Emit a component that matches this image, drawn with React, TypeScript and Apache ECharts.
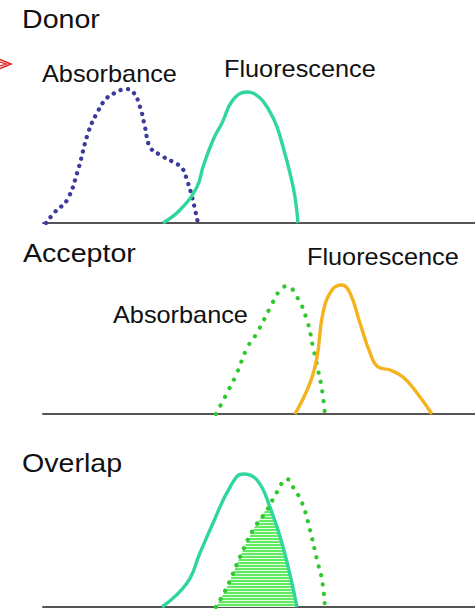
import React, { useEffect, useRef } from "react";
import * as echarts from "echarts";

// wavelength (nm) vs. relative intensity
const donorAbsorbance: [number, number][] = [
  [402.1, 0], [408.3, 0.079], [416.7, 0.164], [424.3, 0.379], [431.3, 0.643], [437.5, 0.786],
  [444.4, 0.893], [451.4, 0.936], [456.9, 0.957], [462.5, 0.936], [467.4, 0.829], [470.8, 0.686],
  [474.3, 0.543], [481.3, 0.486], [490.3, 0.436], [496.5, 0.393], [500.0, 0.307], [503.5, 0.186],
  [507.6, 0],
];
const donorFluorescence: [number, number][] = [
  [483.3, 0], [495.1, 0.093], [506.9, 0.257], [511.1, 0.4], [518.1, 0.593], [524.3, 0.714],
  [531.9, 0.879], [541.7, 0.936], [550.7, 0.893], [557.6, 0.793], [562.5, 0.686], [566.7, 0.543],
  [571.5, 0.357], [575.0, 0.186], [577.1, 0],
];
const acceptorAbsorbance: [number, number][] = [
  [520.1, 0], [527.8, 0.15], [534.7, 0.293], [541.7, 0.471], [548.6, 0.579], [557.6, 0.757],
  [564.6, 0.886], [569.4, 0.914], [576.4, 0.836], [583.3, 0.671], [587.5, 0.479], [591.0, 0.314],
  [593.8, 0.171], [595.8, 0],
];
const acceptorFluorescence: [number, number][] = [
  [575.0, 0], [585.4, 0.221], [590.3, 0.407], [594.4, 0.721], [600.7, 0.886], [607.6, 0.921],
  [613.2, 0.864], [620.1, 0.65], [627.1, 0.436], [632.6, 0.336], [641.0, 0.314], [650.0, 0.264],
  [659.7, 0.15], [670.1, 0],
];
const overlapFluorescence: [number, number][] = [
  [482.6, 0], [500.0, 0.171], [509.0, 0.386], [518.1, 0.6], [529.9, 0.857], [538.9, 0.95],
  [548.6, 0.907], [557.6, 0.714], [566.7, 0.429], [576.4, 0],
];
const overlapAbsorbance: [number, number][] = [
  [520.1, 0], [527.8, 0.143], [536.8, 0.357], [545.8, 0.55], [555.6, 0.693], [562.5, 0.821],
  [569.4, 0.914], [573.6, 0.857], [579.9, 0.743], [585.4, 0.55], [590.3, 0.336], [593.8, 0.193],
  [595.8, 0],
];
const overlapRegion: [number, number][] = [
  [520.1, 0], [527.8, 0.143], [536.8, 0.357], [545.8, 0.55], [552.1, 0.65], [556.3, 0.714],
  [561.1, 0.593], [566.7, 0.429], [571.5, 0.229], [576.4, 0],
];

const panelTitles = ["Donor", "Acceptor", "Overlap"];
const curveLabels = ["Absorbance", "Fluorescence"];

const BLUE_DOT = "#3b3b9c";
const TEAL = "#2fd79c";
const GREEN_DOT = "#30c830";
const ORANGE = "#f4b21c";
const FONT = "'Liberation Sans', Arial, sans-serif";

export default function App() {
  const ref = useRef<HTMLDivElement>(null);
  useEffect(() => {
    if (!ref.current) return;
    const chart = echarts.init(ref.current, null, { renderer: "svg" });

    const grids = [
      { left: 43, width: 432, top: 83, height: 140 },
      { left: 43, width: 432, top: 274, height: 140 },
      { left: 43, width: 432, top: 467, height: 140 },
    ];
    const xAxes = grids.map((_, i) => ({
      type: "value" as const,
      gridIndex: i,
      min: 400,
      max: 700,
      axisLine: { show: true, onZero: false, lineStyle: { color: "#555", width: 2 } },
      axisTick: { show: false },
      axisLabel: { show: false },
      splitLine: { show: false },
    }));
    const yAxes = grids.map((_, i) => ({
      type: "value" as const,
      gridIndex: i,
      min: 0,
      max: 1,
      show: false,
      splitLine: { show: false },
    }));

    const dotted = (color: string, gap: number, width: number) => ({
      color,
      width,
      type: [0.1, gap],
      cap: "round" as const,
    });

    const stops: { offset: number; color: string }[] = [];
    const N = 34;
    for (let i = 0; i < N; i++) {
      stops.push({ offset: i / N, color: "#62ea62" });
      stops.push({ offset: (i + 0.6) / N, color: "#62ea62" });
      stops.push({ offset: (i + 0.6) / N, color: "#e4fce4" });
      stops.push({ offset: (i + 1) / N, color: "#e4fce4" });
    }
    const hatch = new echarts.graphic.LinearGradient(0, 505, 0, 607, stops, true);

    const line = (data: [number, number][], idx: number, lineStyle: any, extra: any = {}) => ({
      type: "line",
      xAxisIndex: idx,
      yAxisIndex: idx,
      data,
      smooth: 0.45,
      showSymbol: false,
      symbol: "none",
      lineStyle,
      silent: true,
      ...extra,
    });

    const text = (t: string, x: number, y: number, size: number) => ({
      type: "text",
      x,
      y,
      scaleX: 1.1,
      style: {
        text: t,
        fill: "#111",
        font: `${size}px ${FONT}`,
        verticalAlign: "top",
      },
    });

    chart.setOption({
      animation: false,
      backgroundColor: "#fff",
      grid: grids,
      xAxis: xAxes,
      yAxis: yAxes,
      series: [
        line(donorAbsorbance, 0, dotted(BLUE_DOT, 7.4, 4.3)),
        line(donorFluorescence, 0, { color: TEAL, width: 3.4 }),
        line(acceptorAbsorbance, 1, dotted(GREEN_DOT, 9.6, 4.2)),
        line(acceptorFluorescence, 1, { color: ORANGE, width: 3.4 }),
        line(overlapRegion, 2, { width: 0, color: "transparent" }, {
          areaStyle: { color: hatch, opacity: 1 },
          smooth: 0.3,
          z: 1,
        }),
        line(overlapFluorescence, 2, { color: TEAL, width: 3.4 }, { z: 3 }),
        line(overlapAbsorbance, 2, dotted(GREEN_DOT, 9.2, 4.2), { z: 3 }),
      ],
      graphic: [
        text(panelTitles[0], 22, 6, 26),
        text(curveLabels[0], 42, 62, 23),
        text(curveLabels[1], 224, 57, 23),
        text(panelTitles[1], 23, 240, 26),
        text(curveLabels[1], 307, 245, 23),
        text(curveLabels[0], 113, 303, 23),
        text(panelTitles[2], 22, 450, 26),
        {
          type: "polyline",
          shape: { points: [[0, 59.5], [11, 64], [0, 68.5]] },
          style: { stroke: "#e52020", lineWidth: 1.5, fill: "none" },
        },
        {
          type: "polyline",
          shape: { points: [[0, 62], [6.5, 64], [0, 66]] },
          style: { stroke: "#e52020", lineWidth: 1.2, fill: "none" },
        },
      ],
    });
    return () => chart.dispose();
  }, []);
  return (
    <div
      ref={ref}
      style={{ position: "fixed", left: 0, top: 0, width: 475, height: 609, background: "#fff" }}
    />
  );
}
